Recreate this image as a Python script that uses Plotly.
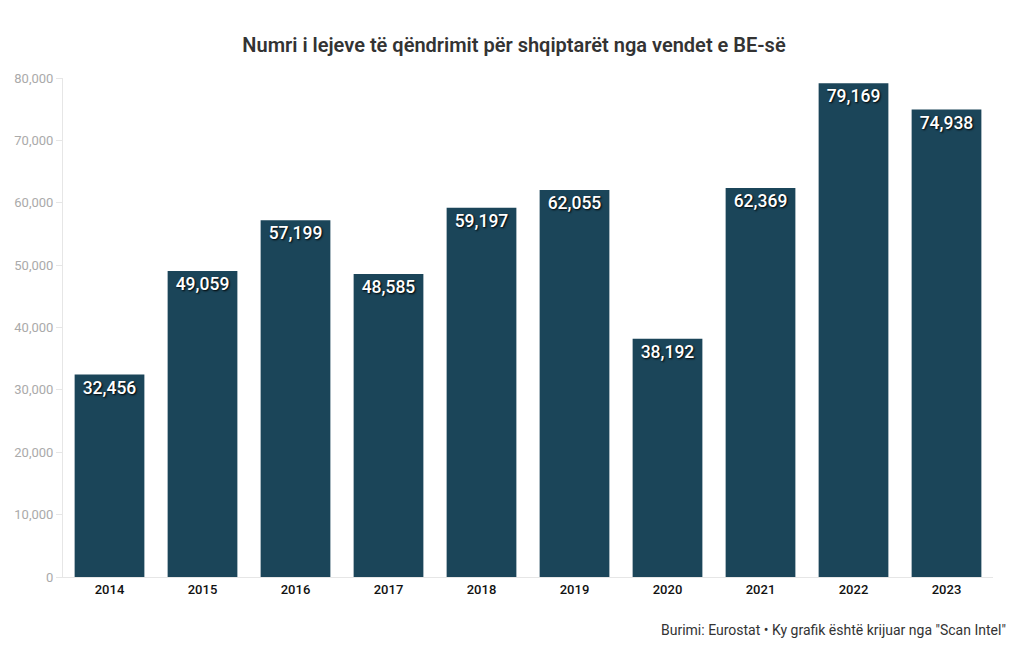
import plotly.graph_objects as go

years = ["2014", "2015", "2016", "2017", "2018", "2019", "2020", "2021", "2022", "2023"]
values = [32456, 49059, 57199, 48585, 59197, 62055, 38192, 62369, 79169, 74938]
y_ticks = [0, 10000, 20000, 30000, 40000, 50000, 60000, 70000, 80000]
y_tick_labels = ["0", "10,000", "20,000", "30,000", "40,000", "50,000", "60,000", "70,000", "80,000"]

title_text = "Numri i lejeve të qëndrimit për shqiptarët nga vendet e BE-së"
source_text = "Burimi: Eurostat • Ky grafik është krijuar nga \"Scan Intel\""

fig = go.Figure(go.Bar(
    x=years,
    y=values,
    marker=dict(color="#1b4559", line=dict(width=0)),
    text=[f"{v:,}" for v in values],
    textposition="inside",
    insidetextanchor="end",
    textangle=0,
    textfont=dict(family="Roboto", size=17.5, color="white", weight=500,
                  shadow="1px 1px 2px #000000"),
    hoverinfo="x+y",
))

fig.update_layout(
    width=1012,
    height=642,
    paper_bgcolor="white",
    plot_bgcolor="white",
    margin=dict(l=55, r=27, t=70, b=73, autoexpand=False),
    bargap=0.25,
    title=dict(text=title_text, x=0.5, xanchor="center", y=0.942, yanchor="middle",
               font=dict(family="Roboto", size=20, color="#333333", weight=600)),
    font=dict(family="Roboto"),
    showlegend=False,
    uniformtext=dict(minsize=10, mode="show"),
    annotations=[dict(text=source_text, xref="paper", yref="paper", x=1.016, y=-0.106,
                      xanchor="right", yanchor="middle", showarrow=False,
                      font=dict(family="Roboto", size=14, color="#333333"))],
)
fig.update_xaxes(
    showgrid=False, showline=True, linecolor="#e6e6e6", linewidth=1,
    tickfont=dict(family="Roboto", size=13, color="#111111", weight=500),
    ticks="", fixedrange=True,
)
fig.update_yaxes(
    range=[0, 80000], tickvals=y_ticks, ticktext=y_tick_labels,
    showgrid=False, showline=True, linecolor="#e6e6e6", linewidth=1,
    ticks="outside", ticklen=6, tickcolor="#e6e6e6",
    tickfont=dict(family="Roboto", size=13, color="#aaaaaa"),
    zeroline=False, fixedrange=True,
)

fig.write_html("out.html")
